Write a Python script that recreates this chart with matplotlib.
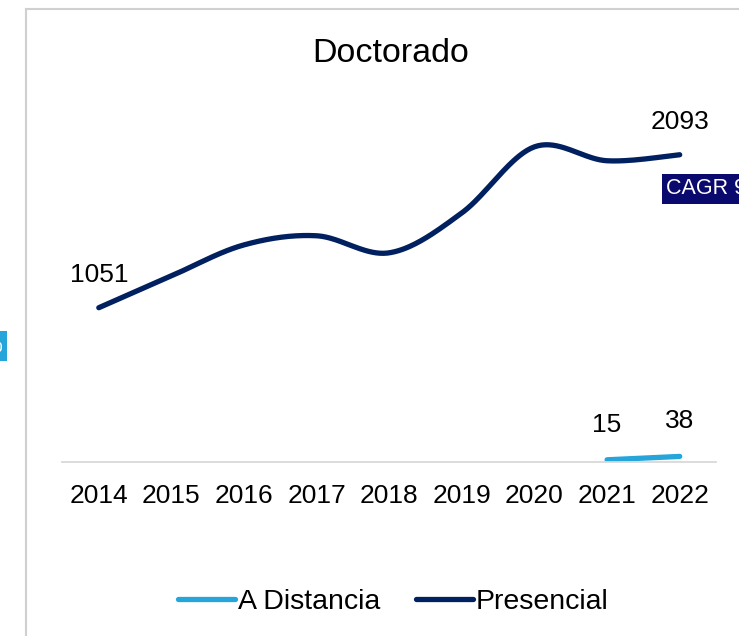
import numpy as np
import matplotlib
matplotlib.use('Agg')
import matplotlib.pyplot as plt
from matplotlib.lines import Line2D

plt.rcParams['font.family'] = ['Liberation Sans', 'DejaVu Sans']

# datos
years = ['2014', '2015', '2016', '2017', '2018', '2019', '2020', '2021', '2022']
presencial = [1051, 1268, 1479, 1541, 1425, 1697, 2147, 2052, 2093]
distancia_years = ['2021', '2022']
distancia = [15, 38]

NAVY = '#002060'
SKY = '#25A5DA'
W, H = 739, 636


def smooth(x, y, n=40):
    # curva suavizada tipo Excel (Catmull-Rom en forma Bezier)
    pts = np.column_stack([np.asarray(x, float), np.asarray(y, float)])
    out = []
    for i in range(len(pts) - 1):
        p0 = pts[max(i - 1, 0)]
        p1 = pts[i]
        p2 = pts[i + 1]
        p3 = pts[min(i + 2, len(pts) - 1)]
        c1 = p1 + (p2 - p0) / 6
        c2 = p2 - (p3 - p1) / 6
        t = np.linspace(0, 1, n)[:, None]
        seg = ((1 - t) ** 3) * p1 + 3 * ((1 - t) ** 2) * t * c1 + 3 * (1 - t) * t ** 2 * c2 + t ** 3 * p2
        out.append(seg if i == 0 else seg[1:])
    out = np.vstack(out)
    return out[:, 0], out[:, 1]


fig = plt.figure(figsize=(W / 100, H / 100), dpi=100)
ax = fig.add_axes([62.5 / W, 1 - 462 / H, (716 - 62.5) / W, (462 - 95) / H])

xp = np.arange(len(years))
xd = np.array([years.index(y) for y in distancia_years])

sx, sy = smooth(xd, distancia)
ax.plot(sx, sy, color=SKY, lw=3.8, solid_capstyle='round', label='A Distancia')
sx, sy = smooth(xp, presencial)
ax.plot(sx, sy, color=NAVY, lw=3.8, solid_capstyle='round', label='Presencial')

# etiquetas de datos (solo extremos)
for xi, v in [(xp[0], presencial[0]), (xp[-1], presencial[-1])]:
    ax.annotate(str(v), (xi, v), xytext=(0, 33), textcoords='offset pixels',
                ha='center', va='center', fontsize=19)
for xi, v in zip(xd, distancia):
    ax.annotate(str(v), (xi, v), xytext=(0, 35), textcoords='offset pixels',
                ha='center', va='center', fontsize=19)

ax.set_xlim(-0.5, len(years) - 0.5)
ax.set_ylim(0, 2500)
ax.set_xticks(xp)
ax.set_xticklabels(years, fontsize=19)
ax.set_yticks([])
ax.tick_params(axis='x', length=0, pad=15.5)
for s in ['left', 'right', 'top']:
    ax.spines[s].set_visible(False)
ax.spines['bottom'].set_color('#d9d9d9')
ax.spines['bottom'].set_linewidth(1.3)
ax.patch.set_visible(False)

fig.text(391 / W, 1 - 53 / H, 'Doctorado', ha='center', va='center', fontsize=24.5)

fig.legend(loc='center', bbox_to_anchor=(393.5 / W, 1 - 602 / H), ncol=2, frameon=False,
           fontsize=20.5, handlelength=2.0, handletextpad=0.1, columnspacing=1.25)

# marco del grafico (recortado)
fig.add_artist(Line2D([26 / W, 26 / W], [0, 1 - 9 / H], color='#d0d0d0', lw=1.5))
fig.add_artist(Line2D([26 / W, 1], [1 - 9 / H, 1 - 9 / H], color='#d0d0d0', lw=1.5))

# etiquetas CAGR cortadas en los bordes, como en la captura original
fig.text(666 / W, 1 - 189 / H, 'CAGR 9%', ha='left', va='center', fontsize=15.5, color='white',
         bbox=dict(boxstyle='square,pad=0.2', facecolor='#0a0a6e', edgecolor='none'))
fig.text(3 / W, 1 - 346 / H, 'CAGR 153%', ha='right', va='center', fontsize=15.5, color='white',
         bbox=dict(boxstyle='square,pad=0.2', facecolor=SKY, edgecolor='none'))

fig.savefig('out.png', dpi=100)
